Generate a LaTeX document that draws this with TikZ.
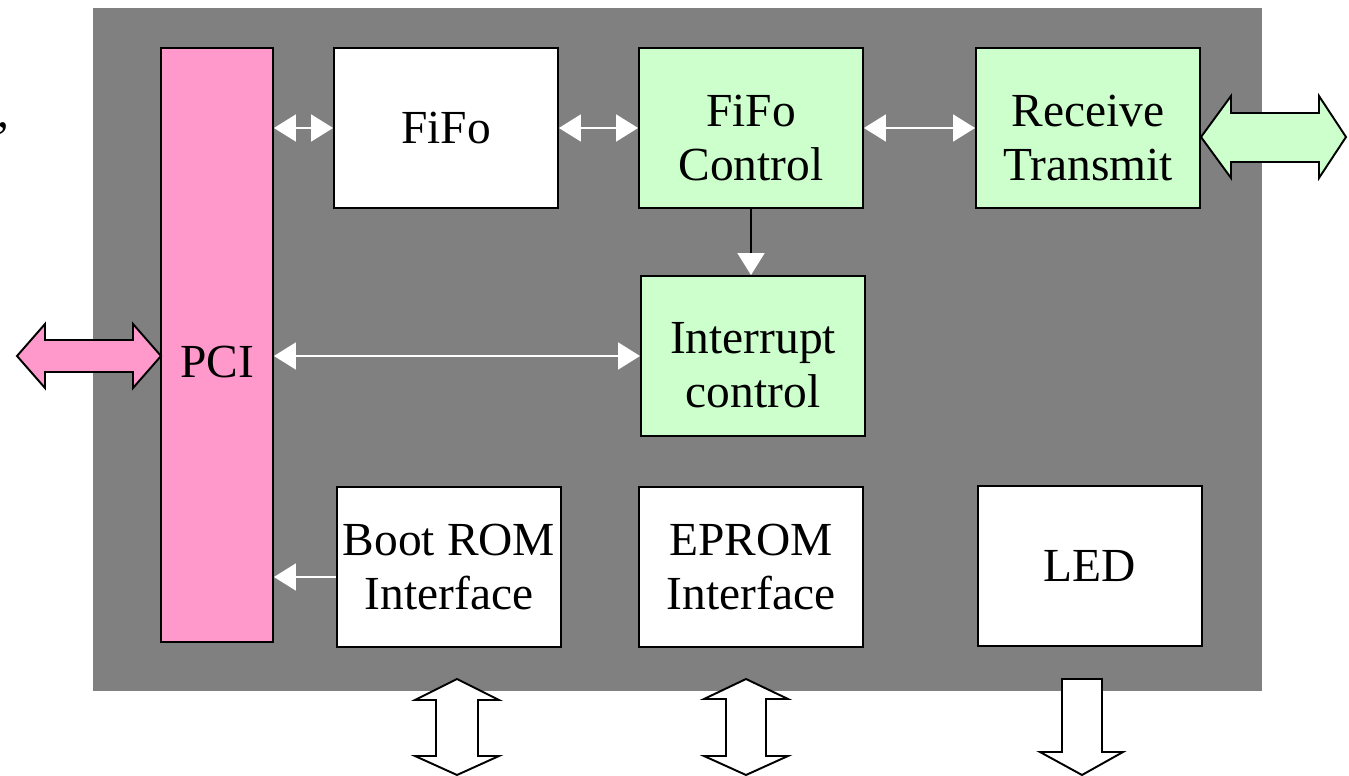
\documentclass[tikz,border=0pt]{standalone}
\usepackage{fontspec}
\setmainfont{Liberation Serif}
\usetikzlibrary{arrows.meta}
\definecolor{boardgray}{HTML}{808080}
\definecolor{pcipink}{HTML}{FF99CC}
\definecolor{ctrlgreen}{HTML}{CCFFCC}
\tikzset{
  block/.style={rectangle, draw=black, line width=1.1pt, fill=white, minimum width=4.48cm, minimum height=3.2cm, inner sep=2pt, align=center},
  ctrlblock/.style={block, fill=ctrlgreen},
  blocktext/.style={inner sep=2pt, align=center},
  wire/.style={white, line width=1pt, >={Triangle[length=0.44cm, width=0.54cm]}},
  bigarrow/.style={draw=black, line width=1.1pt, line join=miter}
}

\begin{document}
\begin{tikzpicture}[x=0.02cm, y=-0.02cm, every node/.style={font=\fontsize{27}{31}\selectfont}]
\useasboundingbox (0,0) rectangle (1349,776);

% Board
\fill[boardgray] (93,8) rectangle (1262,691);

\node[anchor=base west, inner sep=0pt] (comma) at (-3,128) {,};

% Blocks
\node[block, fill=pcipink, minimum width=2.24cm, minimum height=11.88cm] (pci) at (217,345) {};
\node[blocktext] (pcitext) at ([yshift=-3.4mm]pci.center) {PCI};
\node[block] (fifo) at (446,128) {FiFo};
\node[ctrlblock] (fifoctrl) at (751,128) {};
\node[blocktext] (fifoctrltext) at ([yshift=-2mm]fifoctrl.center) {FiFo\\Control};
\node[ctrlblock] (rxtx) at (1088,128) {};
\node[blocktext] (rxtxtext) at ([yshift=-2mm]rxtx.center) {Receive\\Transmit};
\node[ctrlblock] (intr) at (753,356) {};
\node[blocktext] (intrtext) at ([yshift=-1.8mm]intr.center) {Interrupt\\control};
\node[block] (bootrom) at (449,567) {Boot ROM\\Interface};
\node[block] (eprom) at (751,567) {EPROM\\Interface};
\node[block] (led) at (1090,566) {LED};

% Internal connections
\draw[wire, <->] (pci.east |- fifo.west) -- (fifo.west);
\draw[wire, <->] (fifo.east) -- (fifoctrl.west);
\draw[wire, <->] (fifoctrl.east) -- (rxtx.west);
\draw[wire, <->] (pci.east |- intr.west) -- (intr.west);
\coordinate (bootout) at ([yshift=-2mm]bootrom.west);
\draw[wire, ->] (bootout) -- (pci.east |- bootout);
\draw[line width=1pt, -{Triangle[length=0.44cm, width=0.54cm, white]}] (fifoctrl.south) -- (fifoctrl.south |- intr.north);

% External buses
\draw[bigarrow, fill=pcipink] (17,356) -- (45,324) -- (45,340) -- (133,340) -- (133,324) -- (161,356) -- (133,388) -- (133,372) -- (45,372) -- (45,388) -- cycle;
\draw[bigarrow, fill=ctrlgreen] (1201,137) -- (1231,96) -- (1231,113) -- (1319,113) -- (1319,96) -- (1346,137) -- (1319,178) -- (1319,162) -- (1231,162) -- (1231,178) -- cycle;
\draw[bigarrow, fill=white] (457,679) -- (499,700) -- (478,700) -- (478,756) -- (499,756) -- (457,775) -- (415,756) -- (436,756) -- (436,700) -- (415,700) -- cycle;
\draw[bigarrow, fill=white] (746,679) -- (788,699) -- (766,699) -- (766,756) -- (788,756) -- (746,775) -- (704,756) -- (726,756) -- (726,699) -- (704,699) -- cycle;
\draw[bigarrow, fill=white] (1062,679) -- (1102,679) -- (1102,752) -- (1123,752) -- (1082,775) -- (1040,752) -- (1062,752) -- cycle;
\end{tikzpicture}
\end{document}
